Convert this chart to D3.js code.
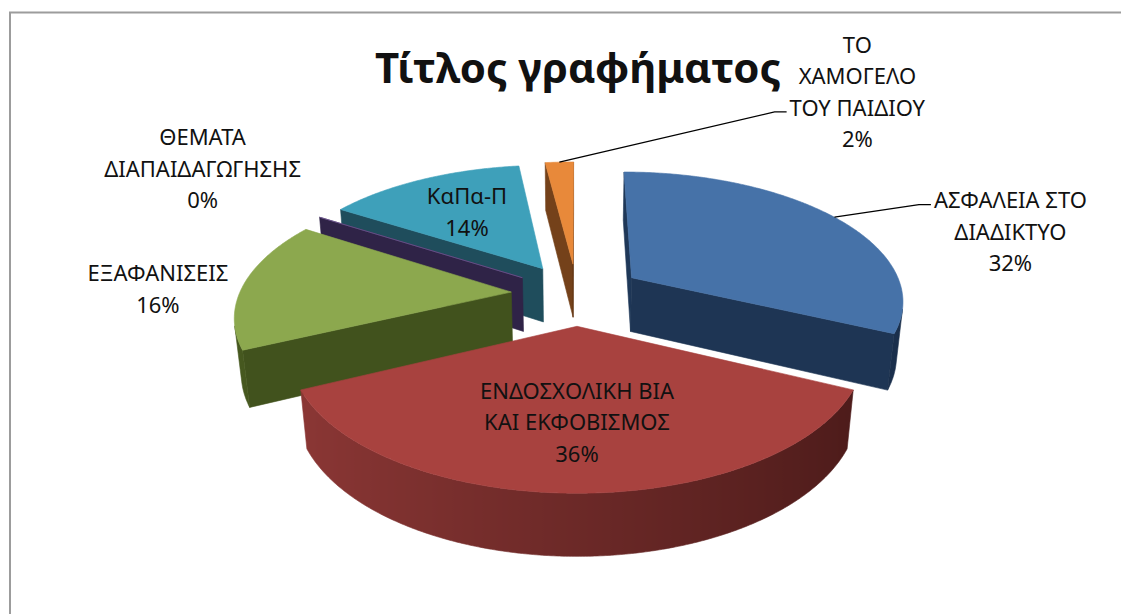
<!DOCTYPE html>
<html>
<head>
<meta charset="utf-8">
<script src="https://cdn.jsdelivr.net/npm/d3@7"></script>
<style>
  body { margin: 0; background: #fff; }
  svg text { font-family: "Noto Sans", "DejaVu Sans", sans-serif; fill: #111; }
</style>
</head>
<body>
<svg id="chart" width="1121" height="614"></svg>
<script>
// data
var categories = ["ΑΣΦΑΛΕΙΑ ΣΤΟ ΔΙΑΔΙΚΤΥΟ", "ΕΝΔΟΣΧΟΛΙΚΗ ΒΙΑ ΚΑΙ ΕΚΦΟΒΙΣΜΟΣ", "ΕΞΑΦΑΝΙΣΕΙΣ",
                  "ΘΕΜΑΤΑ ΔΙΑΠΑΙΔΑΓΩΓΗΣΗΣ", "ΚαΠα-Π", "ΤΟ ΧΑΜΟΓΕΛΟ ΤΟΥ ΠΑΙΔΙΟΥ"];
var values = [16, 18, 8, 0, 7, 1];
var labelLines = [["ΑΣΦΑΛΕΙΑ ΣΤΟ", "ΔΙΑΔΙΚΤΥΟ"], ["ΕΝΔΟΣΧΟΛΙΚΗ ΒΙΑ", "ΚΑΙ ΕΚΦΟΒΙΣΜΟΣ"], ["ΕΞΑΦΑΝΙΣΕΙΣ"],
                  ["ΘΕΜΑΤΑ", "ΔΙΑΠΑΙΔΑΓΩΓΗΣΗΣ"], ["ΚαΠα-Π"], ["ΤΟ", "ΧΑΜΟΓΕΛΟ", "ΤΟΥ ΠΑΙΔΙΟΥ"]];
var chartTitle = "Τίτλος γραφήματος";

// colours
var topColors = ["#4672a8", "#a8423f", "#8ca84e", "#6f5690", "#3ea0ba", "#e8893a"];
var sideLight = ["#1f3858", "#8e3836", "#46581f", "#30244a", "#205060", "#74411a"];
var sideDark  = ["#1a2f4b", "#4a1a19", "#3f501c", "#2a1f3d", "#1a4250", "#5e3312"];

// label placement: "in" = on the slice, "out" = offset from rim point
var labelLayout = [
    {place: "out", dx: 176, dy: 15, hook: 0},
    {place: "in", k: 0.62},
    {place: "out", dx: -86, dy: 5, hook: -1},
    {place: "out", dx: -117, dy: -48, hook: -1},
    {place: "in", k: 0.6},
    {place: "out", dx: 298, dy: -70, hook: 2}
];

var width = 1121, height = 614;
var cx = 577, cy = 294;
var radius = 272, thick = 63, explode = 66;
var tilt = Math.asin(0.47), dist = 1472;
var lineH = 31.5;

var svg = d3.select('#chart');
var defs = svg.append('defs');

svg.append('rect')
    .attr('x', 10).attr('y', 12.5)
    .attr('width', 1300).attr('height', 800)
    .attr('fill', '#fff')
    .attr('stroke', '#9c9c9c')
    .attr('stroke-width', 2);

var sa = Math.sin(tilt), ca = Math.cos(tilt);
var cam = [0, -dist * ca, dist * sa];

function proj(p) {
    var s = dist / (dist + p[1] * ca - p[2] * sa);
    return [cx + p[0] * s, cy - (p[2] * ca + p[1] * sa) * s];
}

function facing(n, p) {
    return n[0] * (cam[0] - p[0]) + n[1] * (cam[1] - p[1]) + n[2] * (cam[2] - p[2]) > 0;
}

function shade(i, psi) {
    var k = (1 + Math.sin(psi)) / 2;
    return d3.interpolateRgb(sideLight[i], sideDark[i])(k);
}

var total = d3.sum(values);
var pct = d3.format(".0%");
var pie = d3.pie().sort(null).value(function(d) { return d; });
var arcs = pie(values);

var line = d3.line();
var pieG = svg.append('g');

arcs.forEach(function(d) {
    d.mid = (d.startAngle + d.endAngle) / 2;
    d.ox = explode * Math.sin(d.mid);
    d.oz = explode * Math.cos(d.mid);
});

// far slices first
var order = arcs.slice().sort(function(a, b) { return b.oz - a.oz; });

order.forEach(function(d) {
    var i = d.index;
    var g = pieG.append('g');
    var a0 = d.startAngle, a1 = d.endAngle;
    var n = Math.max(1, Math.ceil((a1 - a0) / (Math.PI / 360)));
    var ang = d3.scaleLinear().domain([0, n]).range([a0, a1]);
    function rim(t, H) {
        return [d.ox + radius * Math.sin(t), d.oz + radius * Math.cos(t), H];
    }

    // radial walls
    [[a0, -1], [a1, 1]].forEach(function(w) {
        var t = w[0], sgn = w[1];
        var nrm = [sgn * Math.cos(t), -sgn * Math.sin(t), 0];
        var pts = [[d.ox, d.oz, 0], rim(t, 0), rim(t, -thick), [d.ox, d.oz, -thick]];
        if (!facing(nrm, pts[1])) return;
        var c = shade(i, Math.atan2(nrm[0], nrm[1]));
        g.append('path')
            .attr('d', line(pts.map(proj)) + 'Z')
            .attr('fill', c).attr('stroke', c).attr('stroke-width', 0.6);
    });

    // outer curved side, split into visible runs
    if (a1 > a0) {
        var runs = [], cur = null;
        d3.range(n).forEach(function(k) {
            var tm = ang(k + 0.5);
            var vis = facing([Math.sin(tm), Math.cos(tm), 0], rim(tm, 0));
            if (vis) {
                if (!cur) { cur = [k]; runs.push(cur); }
                cur.push(k + 1);
            } else cur = null;
        });
        runs.forEach(function(run, ri) {
            var ks = d3.range(run[0], run[run.length - 1] + 1);
            var topPts = ks.map(function(k) { return proj(rim(ang(k), 0)); });
            var botPts = ks.map(function(k) { return proj(rim(ang(k), -thick)); }).reverse();
            var xs = topPts.map(function(p) { return p[0]; });
            var x0 = d3.min(xs), x1 = d3.max(xs);
            var gid = 'side' + i + '_' + ri;
            var grad = defs.append('linearGradient')
                .attr('id', gid)
                .attr('gradientUnits', 'userSpaceOnUse')
                .attr('x1', x0).attr('x2', x1).attr('y1', 0).attr('y2', 0);
            var off = d3.scaleLinear().domain([x0, x1 > x0 ? x1 : x0 + 1]).range([0, 1]);
            var stops = ks.map(function(k, j) {
                return {o: off(xs[j]), c: shade(i, ang(k))};
            }).sort(function(a, b) { return a.o - b.o; });
            grad.selectAll('stop').data(stops).enter().append('stop')
                .attr('offset', function(s) { return s.o; })
                .attr('stop-color', function(s) { return s.c; });
            g.append('path')
                .attr('d', line(topPts.concat(botPts)) + 'Z')
                .attr('fill', 'url(#' + gid + ')')
                .attr('stroke', 'url(#' + gid + ')')
                .attr('stroke-width', 0.6);
        });
    }

    // top face
    var top = [[d.ox, d.oz, 0]].concat(d3.range(n + 1).map(function(k) { return rim(ang(k), 0); }));
    g.append('path')
        .attr('d', line(top.map(proj)) + 'Z')
        .attr('fill', topColors[i])
        .attr('stroke', topColors[i])
        .attr('stroke-width', 0.6)
        .attr('stroke-linejoin', 'round');
});

// title
svg.append('text')
    .attr('x', 578).attr('y', 83)
    .attr('text-anchor', 'middle')
    .style('font-size', '42px')
    .style('font-weight', 'bold')
    .text(chartTitle);

// data labels
var labelG = svg.append('g');
arcs.forEach(function(d, i) {
    var lay = labelLayout[i];
    var lines = labelLines[i].concat([pct(d.value / total)]);
    var bx, by, anchor;
    if (lay.place === "in") {
        var r = explode + lay.k * radius;
        var p = proj([r * Math.sin(d.mid), r * Math.cos(d.mid), 0]);
        bx = p[0]; by = p[1];
    } else {
        var rp = explode + radius;
        anchor = proj([rp * Math.sin(d.mid), rp * Math.cos(d.mid), 0]);
        bx = anchor[0] + lay.dx; by = anchor[1] + lay.dy;
    }
    var y0 = by - (lines.length - 1) * lineH / 2;
    var maxW = 0;
    lines.forEach(function(s, j) {
        var t = labelG.append('text')
            .attr('x', bx).attr('y', y0 + j * lineH)
            .attr('dy', '0.35em')
            .attr('text-anchor', 'middle')
            .style('font-size', '22px')
            .text(s);
        maxW = Math.max(maxW, t.node().getComputedTextLength());
    });
    if (lay.place === "out" && lay.hook >= 0) {
        var hy = y0 + lay.hook * lineH + 4;
        var hx = bx - maxW / 2 - 3;
        labelG.append('path')
            .attr('d', line([anchor, [hx - 12, hy], [hx, hy]]))
            .attr('fill', 'none')
            .attr('stroke', '#000')
            .attr('stroke-width', 1.3);
    }
});
</script>
</body>
</html>
